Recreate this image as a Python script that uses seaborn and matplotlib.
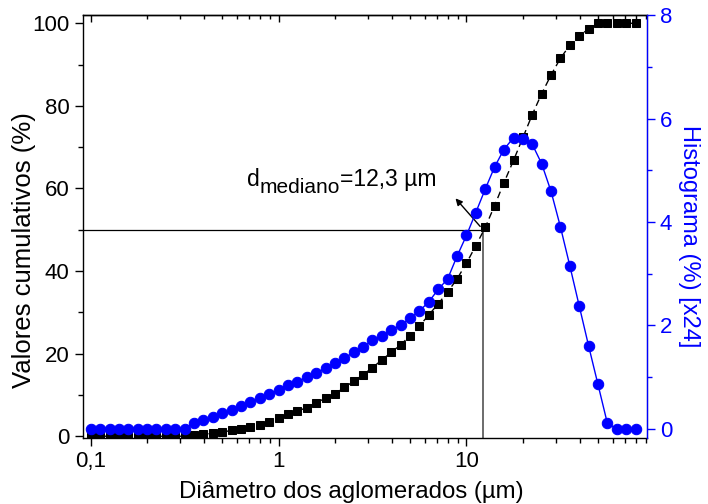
import matplotlib
matplotlib.use("Agg")
import matplotlib.pyplot as plt
import seaborn as sns
from matplotlib.ticker import FixedLocator, FixedFormatter, MultipleLocator, LogLocator, NullFormatter

# Diameter classes (um)
diametro = [0.1, 0.112, 0.126, 0.141, 0.158, 0.178, 0.2, 0.224, 0.251, 0.282,
            0.316, 0.355, 0.398, 0.447, 0.501, 0.562, 0.631, 0.708, 0.794, 0.891,
            1.0, 1.12, 1.26, 1.41, 1.58, 1.78, 2.0, 2.24, 2.51, 2.82,
            3.16, 3.55, 3.98, 4.47, 5.01, 5.62, 6.31, 7.08, 7.94, 8.91,
            10.0, 11.2, 12.6, 14.1, 15.8, 17.8, 20.0, 22.4, 25.1, 28.2,
            31.6, 35.5, 39.8, 44.7, 50.1, 56.2, 63.1, 70.8, 79.4]

# Cumulative values (%)
cumulativo = [0, 0, 0, 0, 0, 0, 0, 0, 0, 0,
              0, 0.2, 0.5, 0.7, 1.0, 1.4, 1.7, 2.2, 2.6, 3.4,
              4.4, 5.3, 6.1, 6.9, 8.1, 9.2, 10.3, 11.8, 13.3, 14.9,
              16.6, 18.5, 20.3, 22.2, 24.3, 26.7, 29.4, 32.1, 34.9, 38.1,
              41.9, 46.1, 50.6, 55.8, 61.3, 66.8, 72.4, 77.9, 82.9, 87.5,
              91.5, 94.7, 97.0, 98.6, 100, 100, 100, 100, 100]

# Histogram (%) x24
histograma = [0, 0, 0, 0, 0, 0, 0, 0, 0, 0,
              0, 0.12, 0.17, 0.23, 0.30, 0.37, 0.44, 0.52, 0.59, 0.68,
              0.75, 0.85, 0.91, 1.00, 1.08, 1.17, 1.27, 1.37, 1.48, 1.59,
              1.71, 1.80, 1.91, 2.01, 2.14, 2.28, 2.46, 2.70, 2.90, 3.34,
              3.74, 4.18, 4.64, 5.06, 5.40, 5.63, 5.60, 5.50, 5.13, 4.59,
              3.91, 3.15, 2.38, 1.60, 0.86, 0.11, 0, 0, 0]

d_mediano = 12.3

sns.set_style("ticks")
plt.rcParams["font.family"] = ["Liberation Sans", "DejaVu Sans"]
plt.rcParams.update({"text.color": "black", "axes.labelcolor": "black",
                     "xtick.color": "black", "ytick.color": "black",
                     "axes.edgecolor": "black"})

fig, ax = plt.subplots(figsize=(7.08, 5.04), dpi=100)
fig.subplots_adjust(left=0.1168, right=0.9134, top=0.9702, bottom=0.1304)
ax2 = ax.twinx()

# cumulative curve (black squares, dashed)
sns.lineplot(x=diametro, y=cumulativo, ax=ax, color="black", marker="s",
             markersize=6.0, markeredgecolor="black", linestyle=(0, (5, 3)),
             linewidth=1.0, zorder=3)

# median guide lines
ax.plot([0.05, d_mediano], [50, 50], color="black", linewidth=0.9, zorder=2)
ax.plot([d_mediano, d_mediano], [-5, 50], color="#444444", linewidth=1.1, zorder=2)

# label d_mediano = 12,3 um (built from pieces, subscript almost full size)
t1 = ax.text(0.68, 59.5, "d", fontsize=16.5, ha="left", va="bottom")
t2 = ax.annotate("mediano", xy=(1, 0), xycoords=t1, xytext=(0, -5),
                 textcoords="offset points", fontsize=15, ha="left", va="bottom")
ax.annotate("=12,3 µm", xy=(1, 0), xycoords=t2, xytext=(0, 4.5),
            textcoords="offset points", fontsize=16.5, ha="left", va="bottom")
ax.annotate("", xy=(8.74, 57.6), xytext=(11.83, 50.8),
            arrowprops=dict(arrowstyle="-|>", color="black", lw=1.0,
                            mutation_scale=10, shrinkA=0, shrinkB=0))

# histogram curve (blue circles)
sns.lineplot(x=diametro, y=histograma, ax=ax2, color="blue", marker="o",
             markersize=7.5, markeredgecolor="blue", linewidth=1.0)

ax.set_xscale("log")
ax.set_xlim(0.0907, 91)
ax.set_ylim(-0.5, 102)
ax2.set_ylim(-0.18, 8)

ax.xaxis.set_major_locator(FixedLocator([0.1, 1, 10]))
ax.xaxis.set_major_formatter(FixedFormatter(["0,1", "1", "10"]))
ax.xaxis.set_minor_locator(LogLocator(base=10, subs=range(2, 10)))
ax.xaxis.set_minor_formatter(NullFormatter())
ax.yaxis.set_major_locator(MultipleLocator(20))
ax.yaxis.set_minor_locator(MultipleLocator(10))
ax2.yaxis.set_major_locator(MultipleLocator(2))
ax2.yaxis.set_minor_locator(MultipleLocator(1))

ax.tick_params(axis="both", which="major", labelsize=16, length=6, width=1, direction="out")
ax.tick_params(axis="both", which="minor", length=3.5, width=1, direction="out")
ax2.tick_params(axis="y", which="major", labelsize=16, length=6, width=1,
                colors="blue", direction="out")
ax2.tick_params(axis="y", which="minor", length=3.5, width=1, colors="blue", direction="out")

# mirrored ticks on top, pointing inward
top = ax.secondary_xaxis("top")
top.xaxis.set_major_locator(FixedLocator([0.1, 1, 10]))
top.xaxis.set_minor_locator(LogLocator(base=10, subs=range(2, 10)))
top.xaxis.set_minor_formatter(NullFormatter())
top.tick_params(which="both", direction="in", labeltop=False, width=1)
top.tick_params(which="major", length=5)
top.tick_params(which="minor", length=3)
top.spines["top"].set_linewidth(1.0)

for side in ["left", "bottom", "top"]:
    ax.spines[side].set_linewidth(1.0)
    ax.spines[side].set_color("black")
ax2.spines["right"].set_color("blue")
ax2.spines["right"].set_linewidth(1.0)
ax2.spines["top"].set_visible(False)
ax2.spines["left"].set_visible(False)
ax2.spines["bottom"].set_visible(False)

ax.set_xlabel("Diâmetro dos aglomerados (µm)", fontsize=17.3, labelpad=6)
ax.xaxis.label.set_x(0.477)
ax.set_ylabel("Valores cumulativos (%)", fontsize=18.5)
ax.yaxis.set_label_coords(-0.082, 0.445)
ax2.set_ylabel("Histograma (%) [x24]", fontsize=17, color="blue", rotation=270, labelpad=20)
ax2.yaxis.label.set_y(0.477)

fig.savefig("out.png", dpi=100)
